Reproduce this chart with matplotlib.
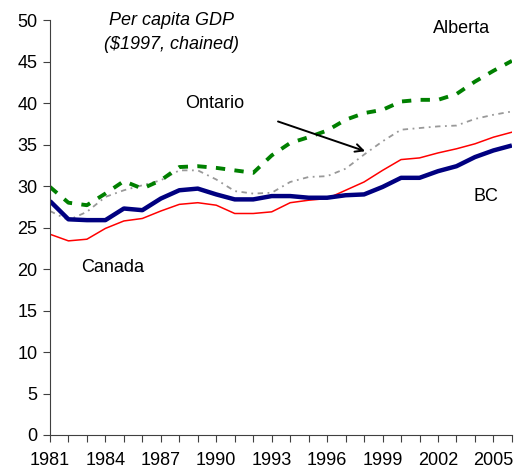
"""per capita GDP, BC vs Alberta / Ontario / Canada"""
import numpy as np
from matplotlib import pyplot as plt

plt.rcParams['font.family'] = ['Liberation Sans', 'DejaVu Sans']

years = np.arange(1981, 2007)

bc = [28.2, 26.0, 25.9, 25.9, 27.3, 27.1, 28.5, 29.5, 29.7, 29.0, 28.4, 28.4, 28.8,
      28.8, 28.6, 28.6, 28.9, 29.0, 29.9, 31.0, 31.0, 31.8, 32.4, 33.5, 34.3, 34.9]
canada = [24.2, 23.4, 23.6, 24.9, 25.8, 26.1, 27.0, 27.8, 28.0, 27.7, 26.7, 26.7, 26.9,
          28.0, 28.3, 28.5, 29.5, 30.5, 31.9, 33.2, 33.4, 34.0, 34.5, 35.1, 35.9, 36.5]
ontario = [27.0, 25.9, 26.9, 28.7, 29.5, 30.1, 30.7, 31.9, 31.9, 30.8, 29.4, 29.1, 29.2,
           30.5, 31.1, 31.2, 32.1, 33.8, 35.4, 36.8, 37.0, 37.2, 37.3, 38.1, 38.6, 39.0]
alberta = [29.9, 28.0, 27.7, 29.1, 30.6, 29.7, 30.7, 32.3, 32.4, 32.2, 31.9, 31.6, 33.7,
           35.2, 35.9, 36.7, 38.0, 38.8, 39.2, 40.2, 40.4, 40.4, 41.1, 42.6, 43.9, 45.1]

tick_years = list(range(1981, 2006, 3))

FS = 13

fig = plt.figure(figsize=(5.15, 4.7), dpi=100)
ax = fig.add_axes([0.097, 0.0745, 0.897, 0.8825])

ax.plot(years, ontario, color="#999999", lw=1.3, dashes=(3, 2.5, 1, 2.5))
ax.plot(years, alberta, color="#008000", lw=2.8, dashes=(2.4, 2.4))
ax.plot(years, canada, color="#ff0000", lw=1.1)
ax.plot(years, bc, color="#000080", lw=3.2, solid_capstyle="butt")

ax.set_xlim(1981, 2006)
ax.set_ylim(0, 50)
ax.set_yticks(range(0, 51, 5))
ax.set_xticks(years)
ax.set_xticklabels([str(y) if y in tick_years else "" for y in years])

for side in ("top", "right"):
    ax.spines[side].set_visible(False)
for side in ("left", "bottom"):
    ax.spines[side].set_color("#404040")
ax.tick_params(length=5, color="#404040", labelsize=FS)
ax.tick_params(axis="x", pad=7)
ax.tick_params(axis="y", pad=4)

ax.text(1987.6, 50.0, "Per capita GDP", fontsize=FS, style="italic", ha="center", va="center")
ax.text(1987.6, 47.1, "($1997, chained)", fontsize=FS, style="italic", ha="center", va="center")
ax.text(1989.9, 39.9, "Ontario", fontsize=FS, ha="center", va="center")
ax.text(2003.3, 49.0, "Alberta", fontsize=FS, ha="center", va="center")
ax.text(2004.6, 28.8, "BC", fontsize=FS, ha="center", va="center")
ax.text(1984.4, 20.2, "Canada", fontsize=FS, ha="center", va="center")

ax.annotate("", xy=(1998.2, 34.1), xytext=(1993.2, 37.9),
            arrowprops=dict(arrowstyle="->", color="black", lw=1.4, mutation_scale=14))

fig.savefig("out.png", dpi=100)
